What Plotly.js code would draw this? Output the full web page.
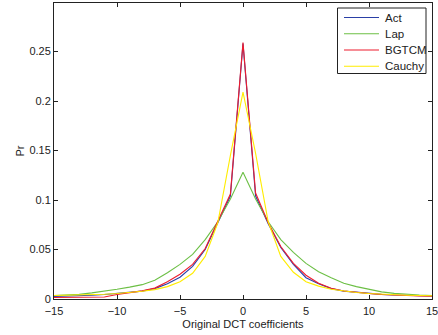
<!DOCTYPE html>
<html>
<head>
<meta charset="utf-8">
<script src="https://cdn.plot.ly/plotly-3.0.1.min.js"></script>
<style>html,body{margin:0;padding:0;background:#fff;}#chart{width:438px;height:335px;}</style>
</head>
<body>
<div id="chart"></div>
<script>
const xs = [-15,-14,-13,-12,-11,-10,-9,-8,-7,-6,-5,-4,-3,-2,-1,0,1,2,3,4,5,6,7,8,9,10,11,12,13,14,15];
const act = [0.0025,0.0028,0.0032,0.0038,0.0045,0.0055,0.0065,0.0080,0.0105,0.0155,0.022,0.033,0.050,0.077,0.104,0.258,0.104,0.076,0.052,0.035,0.0215,0.0155,0.0105,0.008,0.0067,0.0057,0.0047,0.004,0.0035,0.003,0.003];
const lap = [0.0035,0.004,0.0047,0.0062,0.0078,0.0098,0.012,0.0145,0.019,0.0265,0.035,0.045,0.060,0.078,0.101,0.128,0.101,0.078,0.060,0.047,0.036,0.0275,0.0215,0.016,0.0125,0.0095,0.0072,0.0057,0.0045,0.004,0.0035];
const bgtcm = [0.0015,0.0015,0.0016,0.0017,0.002,0.0045,0.0065,0.0082,0.011,0.0175,0.025,0.035,0.051,0.078,0.106,0.259,0.107,0.077,0.053,0.036,0.024,0.016,0.0108,0.008,0.0065,0.0055,0.0045,0.0038,0.0033,0.003,0.0028];
const cauchy = [0.0035,0.0037,0.004,0.0042,0.0048,0.0055,0.0065,0.0078,0.0095,0.0125,0.0175,0.026,0.043,0.077,0.145,0.209,0.147,0.078,0.043,0.027,0.0175,0.013,0.0098,0.0078,0.0065,0.0055,0.0047,0.0042,0.0038,0.0035,0.0033];
const names = ['Act','Lap','BGTCM','Cauchy'];
const colors = ['#2a3fa6','#6cbf45','#ee1c2e','#ffec00'];
const xTicks = [-15,-10,-5,0,5,10,15];
const xTickText = ['\u221215','\u221210','\u22125','0','5','10','15'];
const yTicks = [0,0.05,0.1,0.15,0.2,0.25];
const yTickText = ['0','0.05','0.1','0.15','0.2','0.25'];

const series = [act, lap, bgtcm, cauchy];
const traces = series.map((s,i)=>({
  x: xs, y: s, type:'scatter', mode:'lines', name: names[i],
  line:{color: colors[i], width:1.1}, showlegend:false
}));

const FONT = 'Liberation Sans, Arial, sans-serif';
const axisCommon = {
  showline:true, linecolor:'#222', linewidth:1, mirror:'ticks',
  ticks:'inside', ticklen:4, tickcolor:'#222', tickwidth:1,
  showgrid:false, zeroline:false, ticklabeloverflow:'allow',
  tickfont:{family:FONT, size:11, color:'#222'}
};

// manual legend box (MATLAB style compact legend)
const H = 296; // plot height in px
const py = v => (299 - v) / H;   // pixel row -> paper y
const px = v => (v - 54) / 378;  // pixel col -> paper x
const shapes = [{
  type:'rect', xref:'paper', yref:'paper',
  x0:px(337.5), x1:px(426), y0:py(73.5), y1:py(8),
  line:{color:'#222', width:1}, fillcolor:'#fff', layer:'above'
}];
const annotations = [];
const rows = [17.5, 33.8, 50, 66.3];
names.forEach((n,i)=>{
  shapes.push({type:'line', xref:'paper', yref:'paper',
    x0:px(344), x1:px(379), y0:py(rows[i]), y1:py(rows[i]),
    line:{color:colors[i], width:1.1}, layer:'above'});
  annotations.push({xref:'paper', yref:'paper', x:px(383), y:py(rows[i]),
    xanchor:'left', yanchor:'middle', text:n, showarrow:false,
    font:{family:FONT, size:11.5, color:'#222'}});
});

const layout = {
  width:438, height:335,
  margin:{l:54, r:6, t:3, b:36},
  paper_bgcolor:'#fff', plot_bgcolor:'#fff',
  font:{family:FONT, size:11, color:'#222'},
  xaxis: Object.assign({}, axisCommon, {
    range:[-15,15], tickvals:xTicks, ticktext:xTickText, ticklabelstandoff:2,
    title:{text:'Original DCT coefficients', font:{size:11, color:'#222'}, standoff:4}
  }),
  yaxis: Object.assign({}, axisCommon, {
    range:[0,0.299], tickvals:yTicks, ticktext:yTickText,
    title:{text:'Pr', font:{size:11, color:'#222'}, standoff:2}
  }),
  showlegend:false,
  shapes: shapes,
  annotations: annotations
};

Plotly.newPlot('chart', traces, layout, {displayModeBar:false, staticPlot:true});
</script>
</body>
</html>
